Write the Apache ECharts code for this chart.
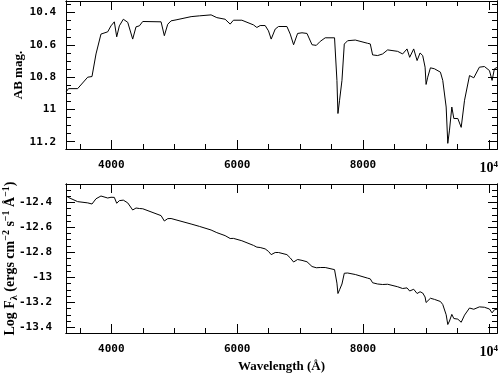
<!DOCTYPE html>
<html>
<head>
<meta charset="utf-8">
<script src="https://cdn.jsdelivr.net/npm/echarts@6/dist/echarts.min.js"></script>
<style>
    html, body { margin: 0; padding: 0; background: #fff; }
    #spectrum { width: 499px; height: 374px; }
</style>
</head>
<body>
<div id="spectrum"></div>
<script>
// wavelength in Angstrom
const wavelength = [3280, 3320, 3465, 3625, 3693, 3757, 3836, 3863, 3943, 3995,
    4048, 4086, 4128, 4191, 4261, 4340, 4393, 4446, 4500, 4791,
    4843, 4897, 4950, 5029, 5268, 5400, 5586, 5677, 5809, 5889,
    5941, 6075, 6259, 6313, 6366, 6445, 6498, 6541, 6605, 6658,
    6791, 6844, 6897, 6961, 7031, 7110, 7190, 7258, 7321, 7400,
    7548, 7586, 7602, 7628, 7666, 7703, 7756, 7878, 8073, 8116,
    8153, 8233, 8312, 8392, 8551, 8630, 8700, 8742, 8806, 8860,
    8907, 8949, 8987, 9003, 9029, 9072, 9136, 9231, 9268, 9322,
    9348, 9375, 9412, 9444, 9507, 9561, 9614, 9693, 9761, 9850,
    9930, 10010, 10052, 10089, 10130];

const abMag = [10.892, 10.871, 10.871, 10.800, 10.796, 10.656, 10.533, 10.523, 10.519, 10.482,
    10.457, 10.550, 10.482, 10.441, 10.460, 10.564, 10.488, 10.482, 10.455, 10.457,
    10.543, 10.472, 10.451, 10.445, 10.425, 10.420, 10.414, 10.431, 10.441, 10.471,
    10.447, 10.447, 10.476, 10.492, 10.480, 10.480, 10.513, 10.564, 10.502, 10.486,
    10.486, 10.533, 10.599, 10.529, 10.525, 10.529, 10.599, 10.603, 10.578, 10.556,
    10.556, 10.820, 11.025, 10.943, 10.820, 10.595, 10.574, 10.570, 10.590, 10.594,
    10.662, 10.666, 10.656, 10.631, 10.640, 10.656, 10.625, 10.677, 10.625, 10.697,
    10.650, 10.666, 10.738, 10.845, 10.800, 10.742, 10.748, 10.769, 10.820, 10.985,
    11.210, 11.128, 10.985, 11.056, 11.056, 11.111, 10.943, 10.790, 10.804, 10.738,
    10.734, 10.759, 10.820, 10.748, 10.740];

const logFlux = [-12.347, -12.362, -12.395, -12.405, -12.414, -12.372, -12.350, -12.350, -12.366, -12.360,
    -12.361, -12.408, -12.387, -12.383, -12.405, -12.462, -12.446, -12.450, -12.452, -12.507,
    -12.550, -12.531, -12.530, -12.541, -12.574, -12.593, -12.622, -12.643, -12.667, -12.690,
    -12.689, -12.708, -12.745, -12.759, -12.762, -12.773, -12.793, -12.819, -12.802, -12.802,
    -12.819, -12.845, -12.878, -12.858, -12.865, -12.876, -12.914, -12.924, -12.922, -12.922,
    -12.939, -13.047, -13.130, -13.100, -13.054, -12.968, -12.966, -12.978, -13.007, -13.013,
    -13.044, -13.054, -13.058, -13.056, -13.076, -13.090, -13.085, -13.110, -13.096, -13.130,
    -13.116, -13.126, -13.158, -13.202, -13.187, -13.168, -13.177, -13.194, -13.218, -13.300,
    -13.378, -13.350, -13.297, -13.330, -13.335, -13.360, -13.303, -13.246, -13.256, -13.237,
    -13.240, -13.254, -13.285, -13.260, -13.256];

// tick positions
const xMajor = [4000, 6000, 8000, 10000];
const xMinor = [3500, 4500, 5000, 5500, 6500, 7000, 7500, 8500, 9000, 9500];
const magMajor = [10.4, 10.6, 10.8, 11, 11.2];
const magMinor = [10.35, 10.45, 10.5, 10.55, 10.65, 10.7, 10.75, 10.85, 10.9, 10.95, 11.05, 11.1, 11.15];
const fluxMajor = [-12.4, -12.6, -12.8, -13, -13.2, -13.4];
const fluxMinor = [-12.3, -12.35, -12.45, -12.5, -12.55, -12.65, -12.7, -12.75, -12.85, -12.9, -12.95,
    -13.05, -13.1, -13.15, -13.25, -13.3, -13.35];

const X_MIN = 3280, X_MAX = 10130;
const labelFont = {
    color: '#000',
    fontFamily: 'DejaVu Sans Mono',
    fontWeight: 'bold',
    fontSize: 11
};
const nameFont = {
    color: '#000',
    fontFamily: 'Liberation Serif',
    fontWeight: 'bold',
    fontSize: 13
};

function axis(grid, position, values, len, opts) {
    const a = {
        type: 'value',
        gridIndex: grid,
        position: position,
        axisLine: { show: true, onZero: false, lineStyle: { color: '#000', width: 1 } },
        axisTick: { show: true, inside: true, length: len, customValues: values,
            lineStyle: { color: '#000', width: 1 } },
        axisLabel: { show: false },
        splitLine: { show: false }
    };
    return Object.assign(a, opts);
}

function xAxesFor(grid, withName) {
    const range = { min: X_MIN, max: X_MAX };
    const main = axis(grid, 'bottom', xMajor, 9, range);
    main.axisLabel = Object.assign({
        show: true,
        margin: 11,
        customValues: xMajor,
        formatter: function (v) {
            return v === 10000 ? '{b|10}{s|4}' : String(v);
        },
        rich: {
            b: Object.assign({}, labelFont, { fontFamily: 'Liberation Serif', fontSize: 14 }),
            s: Object.assign({}, labelFont, { fontFamily: 'Liberation Serif', fontSize: 9, verticalAlign: 'top', padding: [0, 0, 8, 0] })
        }
    }, labelFont);
    if (withName) {
        main.name = 'Wavelength (Å)';
        main.nameLocation = 'middle';
        main.nameGap = 27;
        main.nameMoveOverlap = false;
        main.nameTextStyle = nameFont;
    }
    return [
        main,
        axis(grid, 'bottom', xMinor, 5, range),
        axis(grid, 'top', xMajor, 9, range),
        axis(grid, 'top', xMinor, 5, range)
    ];
}

function yAxesFor(grid, major, minor, range, labelMargin, name, nameGap, nameRich) {
    const main = axis(grid, 'left', major, 9, range);
    main.axisLabel = Object.assign({ show: true, margin: labelMargin, customValues: major }, labelFont);
    main.name = name;
    main.nameLocation = 'middle';
    main.nameGap = nameGap;
    main.nameMoveOverlap = false;
    main.nameTextStyle = Object.assign({}, nameFont, nameRich ? { rich: nameRich } : {});
    return [
        main,
        axis(grid, 'left', minor, 5, range),
        axis(grid, 'right', major, 9, range),
        axis(grid, 'right', minor, 5, range)
    ];
}

const chart = echarts.init(document.getElementById('spectrum'), null, { renderer: 'canvas' });

const magData = wavelength.map((w, i) => [w, abMag[i]]);
const fluxData = wavelength.map((w, i) => [w, logFlux[i]]);

const fluxRich = {
    n: Object.assign({}, nameFont, { fontSize: 14, lineHeight: 18 }),
    sub: Object.assign({}, nameFont, { fontSize: 10, lineHeight: 18, verticalAlign: 'bottom' }),
    sup: Object.assign({}, nameFont, { fontSize: 10, lineHeight: 18, verticalAlign: 'top' })
};

chart.setOption({
    animation: false,
    backgroundColor: '#fff',
    grid: [
        { left: 66, top: 1, right: 2, height: 148, outerBoundsMode: 'none', containLabel: false },
        { left: 66, top: 184, right: 2, height: 149, outerBoundsMode: 'none', containLabel: false }
    ],
    xAxis: xAxesFor(0, false).concat(xAxesFor(1, true)),
    yAxis: yAxesFor(0, magMajor, magMinor, { min: 10.328, max: 11.245, inverse: true }, 10, 'AB mag.', 41)
        .concat(yAxesFor(1, fluxMajor, fluxMinor, { min: -13.446, max: -12.254 }, 14,
            '{n|Log F}{sub|λ}{n| (ergs cm}{sup|−2}{n| s}{sup|−1}{n| Å}{sup|−1}{n|)}', 47, fluxRich)),
    series: [
        {
            name: 'AB mag',
            type: 'line',
            xAxisIndex: 0,
            yAxisIndex: 0,
            data: magData,
            showSymbol: false,
            lineStyle: { color: '#000', width: 1 }
        },
        {
            name: 'log flux',
            type: 'line',
            xAxisIndex: 4,
            yAxisIndex: 4,
            data: fluxData,
            showSymbol: false,
            lineStyle: { color: '#000', width: 1 }
        }
    ]
});
</script>
</body>
</html>
